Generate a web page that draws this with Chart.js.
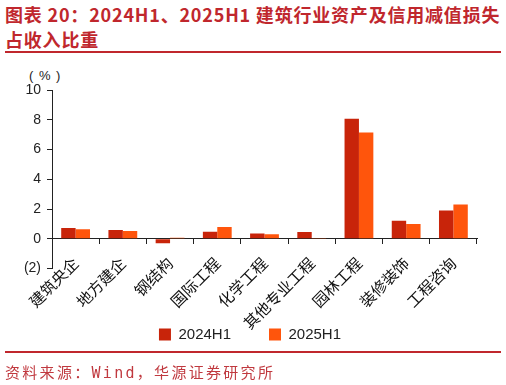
<!DOCTYPE html>
<html>
<head>
<meta charset="utf-8">
<script src="https://cdn.jsdelivr.net/npm/chart.js@4.4.1/dist/chart.umd.min.js"></script>
<style>
  html, body { margin: 0; padding: 0; background: #fff; }
  body { width: 506px; height: 385px; position: relative; overflow: hidden; }
  .title {
    position: absolute; left: 5px; top: 2px; width: 501px;
    font-family: "Noto Sans CJK SC", sans-serif; font-weight: bold;
    font-size: 18px; line-height: 25px; color: #C0272D; letter-spacing: 0.8px;
    white-space: nowrap;
  }
  .rule { position: absolute; left: 5px; width: 496px; height: 2px; background: #C0272D; }
  .unit {
    position: absolute; left: 29px; top: 68px;
    font-family: "Liberation Sans", Arial, sans-serif; font-size: 13px; color: #222;
    letter-spacing: 1px;
  }
  .source {
    position: absolute; left: 5px; top: 361px;
    font-family: "DejaVu Sans Mono", "Noto Sans CJK SC", monospace;
    font-size: 15px; color: #C0393F; letter-spacing: 2.3px; white-space: nowrap;
  }
  #wrap { position: absolute; left: 0; top: 54px; width: 506px; height: 298px; }
</style>
</head>
<body>
<div class="title">图表 20：2024H1、2025H1 建筑行业资产及信用减值损失<br>占收入比重</div>
<div class="rule" style="top:51px"></div>
<div class="unit">( % )</div>
<div id="wrap"><canvas id="chart"></canvas></div>
<div class="rule" style="top:351px"></div>
<div class="source">资料来源：Wind，华源证券研究所</div>

<script>
const categories = ['建筑央企', '地方建企', '钢结构', '国际工程', '化学工程', '其他专业工程', '园林工程', '装修装饰', '工程咨询'];
const series2024 = [0.73, 0.60, -0.30, 0.48, 0.35, 0.46, 8.07, 1.22, 1.90];
const series2025 = [0.64, 0.53, 0.08, 0.80, 0.30, 0.03, 7.15, 1.00, 2.30];
const seriesNames = ['2024H1', '2025H1'];
const yTicks = [-2, 0, 2, 4, 6, 8, 10];

const ctx = document.getElementById('chart').getContext('2d');
const chart = new Chart(ctx, {
    type: 'bar',
    data: {
        labels: categories,
        datasets: [
            {
                label: seriesNames[0],
                data: series2024,
                backgroundColor: '#C8240A',
                categoryPercentage: 0.61,
                barPercentage: 1.0
            },
            {
                label: seriesNames[1],
                data: series2025,
                backgroundColor: '#FF550C',
                categoryPercentage: 0.61,
                barPercentage: 1.0
            }
        ]
    },
    options: {
        responsive: true,
        maintainAspectRatio: false,
        animation: false,
        layout: {
            padding: { top: 36, right: 29, left: 23, bottom: 0 }
        },
        plugins: {
            tooltip: { enabled: false },
            legend: {
                position: 'bottom',
                // empty title only reserves room for the rotated x labels
                title: {
                    display: true,
                    text: ' ',
                    font: { size: 12, lineHeight: 1.2 },
                    padding: { top: 3, bottom: 3 }
                },
                labels: {
                    boxWidth: 12,
                    boxHeight: 12,
                    padding: 38,
                    color: '#222',
                    font: { family: '"Liberation Sans", Arial, sans-serif', size: 15 }
                }
            }
        },
        scales: {
            x: {
                position: { y: 0 },
                offset: true,
                grid: {
                    offset: true,
                    drawOnChartArea: false,
                    drawTicks: true,
                    tickLength: 5,
                    color: '#222'
                },
                border: { display: true, color: '#222', width: 1 },
                ticks: {
                    autoSkip: false,
                    minRotation: 45,
                    maxRotation: 45,
                    padding: 10,
                    color: '#111',
                    font: { family: '"Noto Sans CJK SC", sans-serif', size: 15.5 }
                }
            },
            y: {
                min: -2,
                max: 10,
                afterBuildTicks: function(scale) {
                    scale.ticks = yTicks.map(v => ({ value: v }));
                },
                grid: {
                    drawOnChartArea: false,
                    drawTicks: true,
                    tickLength: 5,
                    color: '#222'
                },
                border: { display: true, color: '#222', width: 1 },
                ticks: {
                    padding: 6,
                    color: '#222',
                    font: { family: '"Liberation Sans", Arial, sans-serif', size: 14 },
                    callback: function(value) {
                        return value < 0 ? '(' + (-value) + ')' : value;
                    }
                },
                afterFit: function(scale) { scale.width = 29; }
            }
        }
    }
});
</script>
</body>
</html>
